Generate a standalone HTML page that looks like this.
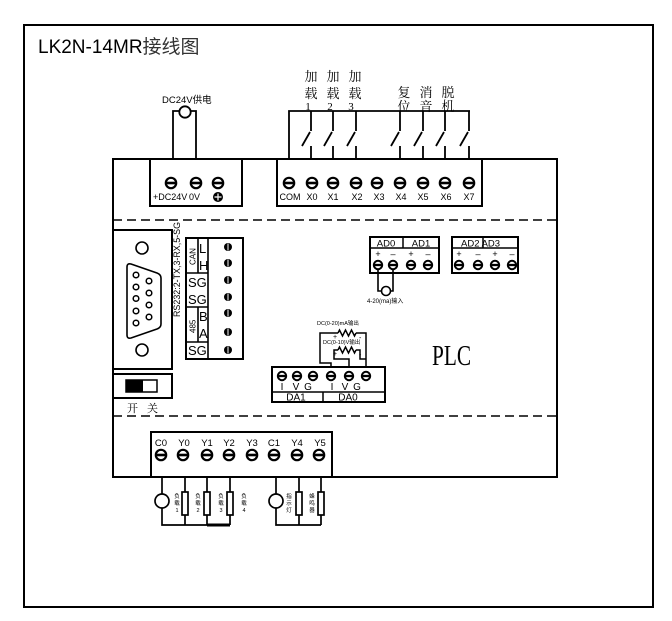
<!DOCTYPE html>
<html><head><meta charset="utf-8">
<style>
html,body{margin:0;padding:0;background:#fff;}
svg{display:block;}
text{font-family:"Liberation Sans","Noto Sans CJK SC",sans-serif;fill:#000;}
.s, .s text, text.s{font-family:"Liberation Serif","Noto Serif CJK SC",serif;}
</style></head><body>
<svg width="672" height="621" viewBox="0 0 672 621" xmlns="http://www.w3.org/2000/svg">
<defs>
<g id="sc"><circle r="5.2" fill="#fff" stroke="#000" stroke-width="2.2"/><line x1="-5.4" x2="5.4" y1="0" y2="0" stroke="#000" stroke-width="2.6"/></g>
<g id="ss"><circle r="4.2" fill="#fff" stroke="#000" stroke-width="2"/><line x1="-4.4" x2="4.4" y1="0" y2="0" stroke="#000" stroke-width="2.3"/></g>
<g id="sv"><circle r="4" fill="#000"/><line x1="0" x2="0" y1="-3.5" y2="3.5" stroke="#fff" stroke-width="1"/></g>
</defs>

<!-- outer frame -->
<rect x="24" y="25" width="629" height="582" fill="none" stroke="#000" stroke-width="2"/>
<text x="38" y="53" font-size="19">LK2N-14MR<tspan fill="#333">接线图</tspan></text>

<!-- PLC body -->
<rect x="113" y="159" width="444" height="318" fill="none" stroke="#000" stroke-width="2"/>
<line x1="113" y1="220" x2="557" y2="220" stroke="#000" stroke-width="1.6" stroke-dasharray="9,5"/>
<line x1="113" y1="416" x2="557" y2="416" stroke="#000" stroke-width="1.6" stroke-dasharray="9,5"/>
<text x="432" y="365" font-size="29" class="s" textLength="39" lengthAdjust="spacingAndGlyphs" fill="#222">PLC</text>

<!-- DC24V supply -->
<text x="162" y="103" font-size="9.5" fill="#222">DC24V供电</text>
<path d="M173,159 V111 H179.5 M196,159 V111 H190.5" fill="none" stroke="#000" stroke-width="1.8"/>
<circle cx="185" cy="112" r="5.7" fill="#fff" stroke="#000" stroke-width="1.8"/>
<rect x="150" y="159" width="92" height="47" fill="none" stroke="#000" stroke-width="2"/>
<use href="#sc" x="171" y="183"/><use href="#sc" x="196" y="183"/><use href="#sc" x="218" y="183"/>
<text x="153" y="200" font-size="9">+DC24V</text>
<text x="189" y="200" font-size="9">0V</text>
<circle cx="218" cy="197" r="5" fill="#000"/>
<path d="M214.5,197 H221.5 M218,193.5 V200.5" stroke="#fff" stroke-width="1.2"/>

<!-- input switches -->
<g class="s" font-size="13" text-anchor="middle">
<text x="311" y="81" fill="#555">加</text><text x="311" y="98" fill="#555">载</text><text x="308" y="110" font-size="11" fill="#555">1</text>
<text x="333" y="81" fill="#555">加</text><text x="333" y="98" fill="#555">载</text><text x="330" y="110" font-size="11" fill="#555">2</text>
<text x="355" y="81" fill="#555">加</text><text x="355" y="98" fill="#555">载</text><text x="351" y="110" font-size="11" fill="#555">3</text>
<text x="404" y="97" fill="#555">复</text><text x="404" y="111" fill="#555">位</text>
<text x="426" y="97" fill="#555">消</text><text x="426" y="111" fill="#555">音</text>
<text x="448" y="97" fill="#555">脱</text><text x="448" y="111" fill="#555">机</text>
</g>
<path d="M289,159 V111 H470" fill="none" stroke="#000" stroke-width="1.8"/>
<g fill="none" stroke="#000" stroke-width="1.8">
<path d="M311,111 V131 M310,132 L302,146 M311,146 V159"/>
<path d="M333,111 V131 M332,132 L324,146 M333,146 V159"/>
<path d="M356,111 V131 M355,132 L347,146 M356,146 V159"/>
<path d="M400,111 V131 M399,132 L391,146 M400,146 V159"/>
<path d="M423,111 V131 M422,132 L414,146 M423,146 V159"/>
<path d="M445,111 V131 M444,132 L436,146 M445,146 V159"/>
<path d="M469,111 V131 M468,132 L460,146 M469,146 V159"/>
</g>
<rect x="277" y="159" width="205" height="47" fill="none" stroke="#000" stroke-width="2"/>
<use href="#sc" x="289" y="183"/><use href="#sc" x="312" y="183"/><use href="#sc" x="333" y="183"/>
<use href="#sc" x="356" y="183"/><use href="#sc" x="377" y="183"/><use href="#sc" x="400" y="183"/>
<use href="#sc" x="423" y="183"/><use href="#sc" x="445" y="183"/><use href="#sc" x="469" y="183"/>
<g font-size="9" text-anchor="middle">
<text x="290" y="200">COM</text><text x="312" y="200">X0</text><text x="333" y="200">X1</text>
<text x="357" y="200">X2</text><text x="379" y="200">X3</text><text x="401" y="200">X4</text>
<text x="423" y="200">X5</text><text x="446" y="200">X6</text><text x="469" y="200">X7</text>
</g>

<!-- serial port -->
<rect x="113" y="230" width="59" height="139" fill="none" stroke="#000" stroke-width="2"/>
<circle cx="142" cy="248" r="6" fill="none" stroke="#000" stroke-width="1.6"/>
<circle cx="142" cy="350" r="6" fill="none" stroke="#000" stroke-width="1.6"/>
<path d="M131,264 L157,273 Q161,274.5 161,278 L161,324 Q161,327.5 157,329 L131,338 Q127,339 127,335 L127,267 Q127,263 131,264 Z" fill="none" stroke="#000" stroke-width="1.6"/>
<g fill="none" stroke="#000" stroke-width="1.5">
<circle cx="136" cy="275" r="2.8"/><circle cx="136" cy="287" r="2.8"/><circle cx="136" cy="298.5" r="2.8"/><circle cx="136" cy="311" r="2.8"/><circle cx="136" cy="323" r="2.8"/>
<circle cx="149" cy="281" r="2.8"/><circle cx="149" cy="293" r="2.8"/><circle cx="149" cy="305" r="2.8"/><circle cx="149" cy="317" r="2.8"/>
</g>
<text transform="translate(180,317) rotate(-90)" font-size="9" textLength="95" lengthAdjust="spacingAndGlyphs" fill="#222">RS232:2-TX,3-RX,5-SG</text>

<!-- on/off switch -->
<rect x="113" y="374" width="59" height="24" fill="none" stroke="#000" stroke-width="2"/>
<rect x="126" y="380" width="31" height="12" fill="#fff" stroke="#000" stroke-width="1.5"/>
<rect x="126" y="380" width="17" height="12" fill="#000"/>
<text x="127" y="412" font-size="11" class="s" fill="#444">开</text>
<text x="147" y="412" font-size="11" class="s" fill="#444">关</text>

<!-- comm block -->
<rect x="186" y="238" width="57" height="121" fill="none" stroke="#000" stroke-width="2"/>
<path d="M208,238 V359 M186,273 H208 M186,307 H208 M186,342 H208 M198,238 V273 M198,307 V342" fill="none" stroke="#000" stroke-width="1.6"/>
<text transform="translate(195.5,265) rotate(-90)" font-size="8">CAN</text>
<text x="199" y="253" font-size="13">L</text>
<text x="199" y="270" font-size="13">H</text>
<text x="188" y="287" font-size="13">SG</text>
<text x="188" y="304" font-size="13">SG</text>
<text transform="translate(195.5,333) rotate(-90)" font-size="8">485</text>
<text x="199" y="321" font-size="13">B</text>
<text x="199" y="338" font-size="13">A</text>
<text x="188" y="355" font-size="13">SG</text>
<use href="#sv" x="228" y="247"/><use href="#sv" x="228" y="263"/><use href="#sv" x="228" y="280"/>
<use href="#sv" x="228" y="297"/><use href="#sv" x="228" y="313"/><use href="#sv" x="228" y="332"/><use href="#sv" x="228" y="350"/>

<!-- AD blocks -->
<rect x="370" y="237" width="69" height="36" fill="none" stroke="#000" stroke-width="2"/>
<path d="M370,248 H439 M403,237 V248" stroke="#000" stroke-width="1.5"/>
<text x="386" y="246.5" font-size="9.5" text-anchor="middle">AD0</text>
<text x="421" y="246.5" font-size="9.5" text-anchor="middle">AD1</text>
<rect x="452" y="237" width="66" height="36" fill="none" stroke="#000" stroke-width="2"/>
<path d="M452,248 H518 M483,237 V248" stroke="#000" stroke-width="1.5"/>
<text x="461" y="246.5" font-size="9.5">AD2 AD3</text>
<g font-size="9" text-anchor="middle">
<text x="378" y="257">+</text><text x="393" y="257">–</text><text x="411" y="257">+</text><text x="428" y="257">–</text>
<text x="459" y="257">+</text><text x="478" y="257">–</text><text x="495" y="257">+</text><text x="512" y="257">–</text>
</g>
<use href="#ss" x="378" y="265"/><use href="#ss" x="393" y="265"/><use href="#ss" x="411" y="265"/><use href="#ss" x="428" y="265"/>
<use href="#ss" x="459" y="265"/><use href="#ss" x="478" y="265"/><use href="#ss" x="495" y="265"/><use href="#ss" x="512" y="265"/>
<path d="M378,270 V291 H382 M393,270 V291 H390" fill="none" stroke="#000" stroke-width="1.6"/>
<circle cx="386" cy="291" r="4.5" fill="#fff" stroke="#000" stroke-width="1.6"/>
<text x="367" y="303" font-size="6" fill="#333">4-20(ma)输入</text>

<!-- DA outputs -->
<text x="317" y="325" font-size="5.5" fill="#333">DC(0-20)mA输出</text>
<text x="323" y="344" font-size="5.5" fill="#333">DC(0-10)V输出</text>
<g fill="none" stroke="#000" stroke-width="1.5">
<path d="M338,333 H320 V363 H331 V367"/>
<path d="M338,333 l1.5,-3 l3,6 l3,-6 l3,6 l3,-6 l3,6 l1.5,-3"/>
<path d="M356,333 H366 V367"/>
<path d="M338,350 H334 V359 H349 V367"/>
<path d="M338,350 l1.5,-3 l3,6 l3,-6 l3,6 l3,-6 l3,6 l1.5,-3"/>
<path d="M356,350 H360 V359 H366"/>
</g>
<g font-size="7">
<text x="333" y="339">+</text><text x="359" y="340">-</text>
<text x="333" y="356">+</text><text x="359" y="357">-</text>
</g>
<rect x="272" y="367" width="113" height="35" fill="none" stroke="#000" stroke-width="2"/>
<path d="M272,392 H385 M323,392 V402" stroke="#000" stroke-width="1.5"/>
<use href="#ss" x="282" y="376"/><use href="#ss" x="297" y="376"/><use href="#ss" x="313" y="376"/>
<use href="#ss" x="331" y="376"/><use href="#ss" x="349" y="376"/><use href="#ss" x="366" y="376"/>
<g font-size="10" text-anchor="middle">
<text x="282" y="390">I</text><text x="296" y="390">V</text><text x="308" y="390">G</text>
<text x="332" y="390">I</text><text x="345" y="390">V</text><text x="357" y="390">G</text>
<text x="296" y="400.5">DA1</text><text x="348" y="400.5">DA0</text>
</g>

<!-- outputs -->
<rect x="151" y="432" width="181" height="45" fill="none" stroke="#000" stroke-width="2"/>
<g font-size="9.5" text-anchor="middle">
<text x="161" y="446">C0</text><text x="184" y="446">Y0</text><text x="207" y="446">Y1</text><text x="229" y="446">Y2</text>
<text x="252" y="446">Y3</text><text x="274" y="446">C1</text><text x="297" y="446">Y4</text><text x="320" y="446">Y5</text>
</g>
<use href="#sc" x="161" y="455"/><use href="#sc" x="183" y="455"/><use href="#sc" x="207" y="455"/><use href="#sc" x="229" y="455"/>
<use href="#sc" x="252" y="455"/><use href="#sc" x="274" y="455"/><use href="#sc" x="297" y="455"/><use href="#sc" x="319" y="455"/>

<g fill="none" stroke="#000" stroke-width="1.7">
<path d="M162,477 V525 H230 M185,477 V525 M207,477 V525 M230,477 V525"/>
<path d="M276,477 V525 H321 M299,477 V525 M321,477 V525"/>
</g>
<line x1="207" y1="525" x2="230" y2="525" stroke="#000" stroke-width="3"/>
<g fill="#fff" stroke="#000" stroke-width="1.7">
<circle cx="162" cy="501" r="7"/>
<circle cx="276" cy="501" r="7"/>
<rect x="182" y="492" width="6" height="23"/>
<rect x="204" y="492" width="6" height="23"/>
<rect x="227" y="492" width="6" height="23"/>
<rect x="296" y="492" width="6" height="23"/>
<rect x="318" y="492" width="6" height="23"/>
</g>
<g font-size="5.5" text-anchor="middle">
<text x="177" y="498" fill="#888">负</text><text x="177" y="505" fill="#888">载</text><text x="177" y="512" fill="#888">1</text>
<text x="198" y="498" fill="#888">负</text><text x="198" y="505" fill="#888">载</text><text x="198" y="512" fill="#888">2</text>
<text x="221" y="498" fill="#888">负</text><text x="221" y="505" fill="#888">载</text><text x="221" y="512" fill="#888">3</text>
<text x="244" y="498" fill="#888">负</text><text x="244" y="505" fill="#888">载</text><text x="244" y="512" fill="#888">4</text>
<text x="289" y="498" fill="#888">指</text><text x="289" y="505" fill="#888">示</text><text x="289" y="512" fill="#888">灯</text>
<text x="312" y="498" fill="#888">蜂</text><text x="312" y="505" fill="#888">鸣</text><text x="312" y="512" fill="#888">器</text>
</g>
</svg>
</body></html>
